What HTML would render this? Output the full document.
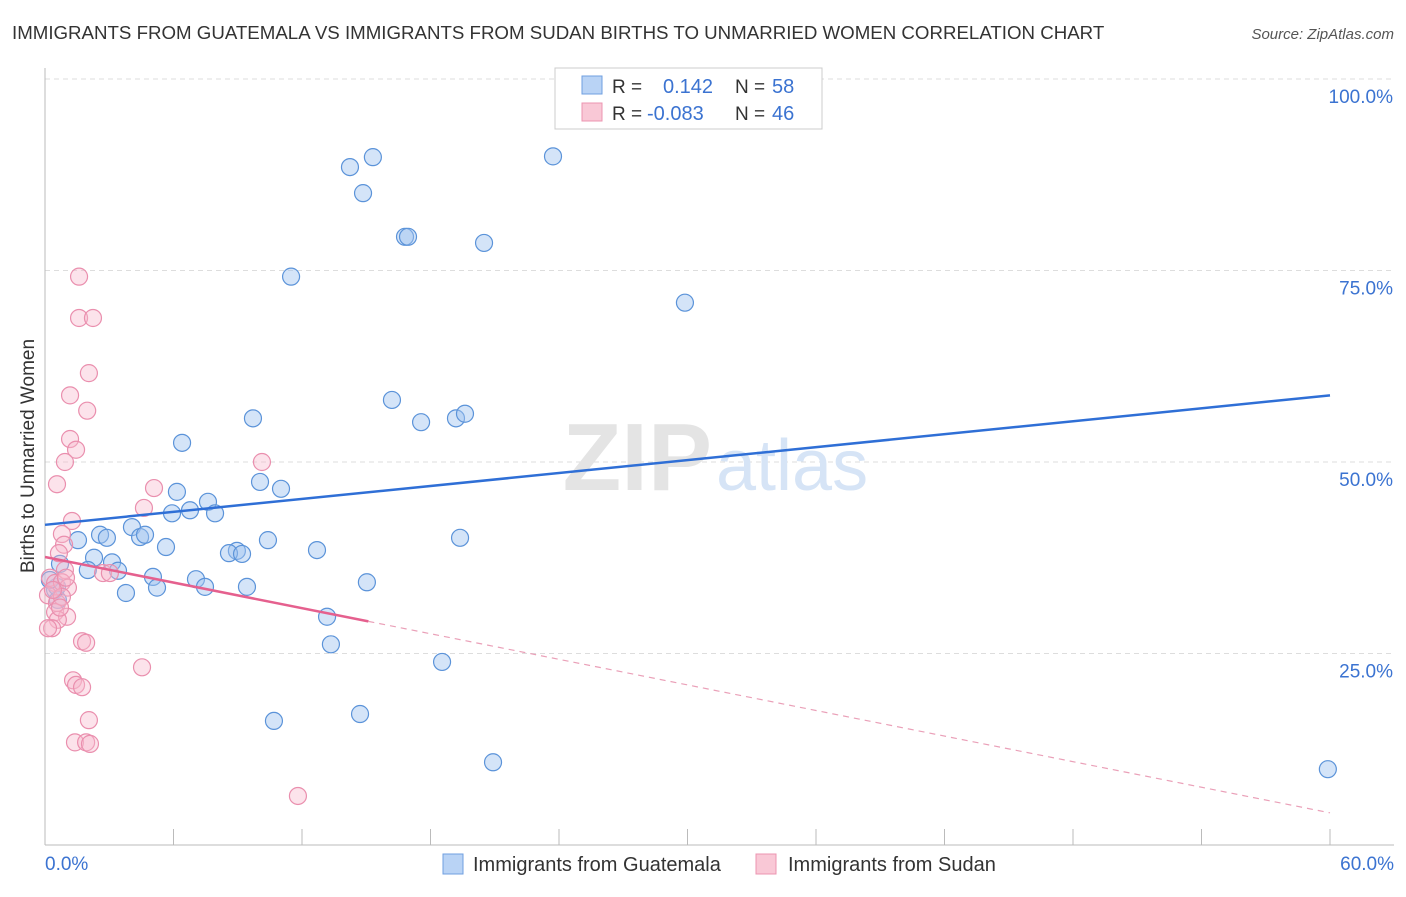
<!DOCTYPE html>
<html><head><meta charset="utf-8">
<style>
body{margin:0;background:#fff;font-family:"Liberation Sans",sans-serif;}
svg text{font-family:"Liberation Sans",sans-serif;}
</style></head><body>
<svg id="chart" width="1406" height="892" xmlns="http://www.w3.org/2000/svg">
<text x="12" y="39" font-size="18.7" fill="#333">IMMIGRANTS FROM GUATEMALA VS IMMIGRANTS FROM SUDAN BIRTHS TO UNMARRIED WOMEN CORRELATION CHART</text>
<text x="1394" y="39" font-size="15" fill="#555" text-anchor="end" font-style="italic">Source: ZipAtlas.com</text>
<g id="grid"></g>
<text x="712" y="490" font-size="96" fill="#e4e4e4" text-anchor="end" font-family="Liberation Serif" font-weight="bold">ZIP</text>
<text x="716" y="490" font-size="72" fill="#d6e4f6">atlas</text>
<g id="pts"></g>
<g id="lines"></g>
<text transform="translate(34,456) rotate(-90)" font-size="19" fill="#333" text-anchor="middle">Births to Unmarried Women</text>
<g>
<rect x="555" y="68" width="267" height="61" fill="#fff" stroke="#ccc"/>
<rect x="582" y="76" width="20" height="18" fill="#b9d3f5" stroke="#6f9fe0"/>
<rect x="582" y="103" width="20" height="18" fill="#f9c8d6" stroke="#ec94b0"/>
<text x="612" y="93" font-size="19" fill="#333">R =</text>
<text x="663" y="93" font-size="20" fill="#3b73d1">0.142</text>
<text x="735" y="93" font-size="19" fill="#333">N =</text>
<text x="772" y="93" font-size="20" fill="#3b73d1">58</text>
<text x="612" y="120" font-size="19" fill="#333">R =</text>
<text x="647" y="120" font-size="20" fill="#3b73d1">-0.083</text>
<text x="735" y="120" font-size="19" fill="#333">N =</text>
<text x="772" y="120" font-size="20" fill="#3b73d1">46</text>
</g>
<g>
<rect x="443" y="854" width="20" height="20" fill="#b9d3f5" stroke="#6f9fe0"/>
<text x="473" y="871" font-size="20" fill="#333">Immigrants from Guatemala</text>
<rect x="756" y="854" width="20" height="20" fill="#f9c8d6" stroke="#ec94b0"/>
<text x="788" y="871" font-size="20" fill="#333">Immigrants from Sudan</text>
</g>
</svg>
<script>
const xTicks=[0,6,12,18,24,30,36,42,48,54,60];
const yTicks=[25,50,75,100];
const xLabels=["0.0%","60.0%"];
const blueX=[14.24,15.31,14.85,23.72,16.81,16.95,20.5,11.49,29.88,16.2,17.56,19.19,19.61,9.71,6.4,10.04,11.02,6.16,7.61,5.93,6.77,7.94,4.06,4.44,4.67,2.57,2.89,1.54,5.65,10.41,8.96,8.59,9.2,12.7,19.38,2.29,3.13,0.7,2.0,3.41,5.04,7.05,5.23,7.47,9.43,15.03,3.78,0.47,0.6,13.17,13.35,18.54,10.69,14.71,20.92,59.9,0.56,0.23];
const blueY=[88.5,89.8,85.1,89.9,79.4,79.4,78.6,74.2,70.8,58.1,55.2,55.7,56.3,55.7,52.5,47.4,46.5,46.1,44.8,43.3,43.7,43.3,41.5,40.2,40.5,40.5,40.1,39.8,38.9,39.8,38.4,38.1,38.0,38.5,40.1,37.5,36.9,36.7,35.9,35.8,35.0,34.7,33.6,33.7,33.7,34.3,32.9,33.3,32.0,29.8,26.2,23.9,16.2,17.1,10.8,9.9,33.7,34.6];
const pinkX=[1.59,1.59,2.24,2.05,1.17,1.97,1.17,1.45,0.93,10.13,0.56,5.09,4.62,1.26,0.79,0.89,0.65,0.93,2.71,3.03,0.23,0.47,0.79,1.07,0.14,0.56,0.47,1.03,0.6,0.33,0.14,1.73,1.92,4.53,1.31,1.45,1.73,2.05,1.4,1.92,2.1,11.81,0.79,0.37,0.7,0.98];
const pinkY=[74.2,68.8,68.8,61.6,58.7,56.7,53.0,51.6,50.0,50.0,47.1,46.6,44.0,42.3,40.6,39.2,38.1,35.9,35.5,35.5,34.9,34.2,34.3,33.6,32.6,31.6,30.4,29.8,29.4,28.3,28.3,26.6,26.4,23.2,21.5,20.9,20.6,16.3,13.4,13.4,13.2,6.4,32.4,33.3,31,34.9];
const blueTrend=[41.8,58.7];
const pinkTrend=[37.6,4.2];
const pinkSolidEnd=15.1;
const X=v=>45+v/60*1285, Y=v=>845-v/100*766;
const NS="http://www.w3.org/2000/svg";
function mk(tag,attrs,parent){const e=document.createElementNS(NS,tag);for(const k in attrs)e.setAttribute(k,attrs[k]);parent.appendChild(e);return e;}
const grid=document.getElementById('grid');
yTicks.forEach(t=>{
 const l=mk('line',{x1:45,x2:1394,y1:Y(t),y2:Y(t),stroke:'#ddd','stroke-dasharray':'5,4'},grid);
 
 
 const tx=mk('text',{x:1393,y:Y(t)+24,'font-size':19,fill:'#3b73d1','text-anchor':'end'},grid);
 tx.textContent=t.toFixed(1)+'%';
 
 
});
const ax=mk('line',{x1:45,x2:45,y1:68,y2:845,stroke:'#bbb'},grid);


const bx=mk('line',{x1:45,x2:1394,y1:845,y2:845,stroke:'#bbb'},grid);


xTicks.forEach(t=>{
 const l=mk('line',{x1:X(t),x2:X(t),y1:829,y2:845,stroke:'#bbb'},grid);
 
 
});
[[0,'start',45],[60,'end',1394]].forEach((d,i)=>{
 const tx=mk('text',{x:d[2],y:870,'font-size':19,fill:'#3b73d1','text-anchor':d[1]},grid);
 tx.textContent=xLabels[i];
 
 
});
const pts=document.getElementById('pts');
blueX.forEach((v,i)=>{
 const c=mk('circle',{cx:X(v),cy:Y(blueY[i]),r:8.5,fill:'rgba(160,196,240,0.45)',stroke:'#5b93d9','stroke-width':1.2},pts);
 
 
});
pinkX.forEach((v,i)=>{
 const c=mk('circle',{cx:X(v),cy:Y(pinkY[i]),r:8.5,fill:'rgba(247,184,204,0.4)',stroke:'#ea8fae','stroke-width':1.2},pts);
 
 
});
const lines=document.getElementById('lines');
const bt=v=>blueTrend[0]+(blueTrend[1]-blueTrend[0])*v/60;
const pt=v=>pinkTrend[0]+(pinkTrend[1]-pinkTrend[0])*v/60;
const b=mk('line',{x1:X(0),y1:Y(bt(0)),x2:X(60),y2:Y(bt(60)),stroke:'#2f6fd6','stroke-width':2.5},lines);


const p=mk('line',{x1:X(0),y1:Y(pt(0)),x2:X(pinkSolidEnd),y2:Y(pt(pinkSolidEnd)),stroke:'#e5608e','stroke-width':2.5},lines);


const pd=mk('line',{x1:X(pinkSolidEnd),y1:Y(pt(pinkSolidEnd)),x2:X(60),y2:Y(pt(60)),stroke:'#eaa0b8','stroke-width':1.2,'stroke-dasharray':'6,5'},lines);


</script>
</body></html>
